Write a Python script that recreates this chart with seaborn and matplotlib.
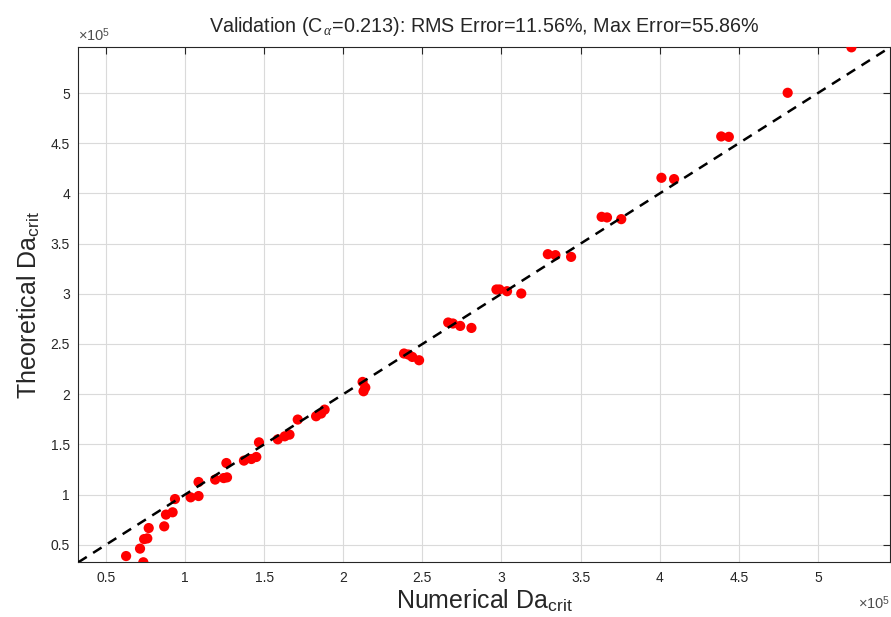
import matplotlib
matplotlib.use("Agg")
import matplotlib.pyplot as plt
import matplotlib.ticker as mticker
import numpy as np
import pandas as pd
import seaborn as sns

# Data in units of 1e5
numerical = [0.627, 0.736, 0.715, 0.741, 0.761, 0.770, 0.868, 0.879, 0.921, 0.936,
             1.035, 1.085, 1.085, 1.190, 1.244, 1.265, 1.261, 1.372, 1.419, 1.450,
             1.467, 1.586, 1.630, 1.660, 1.712, 1.828, 1.860, 1.882,
             2.122, 2.139, 2.128,
             2.384, 2.411, 2.436, 2.479,
             2.663, 2.693, 2.739, 2.810,
             2.968, 2.987, 3.035, 3.125,
             3.293, 3.341, 3.440,
             3.633, 3.667, 3.757,
             4.011, 4.091,
             4.389, 4.437,
             4.809, 5.212]
theoretical = [0.387, 0.325, 0.461, 0.556, 0.563, 0.666, 0.683, 0.800, 0.823, 0.955,
               0.972, 0.985, 1.125, 1.149, 1.164, 1.171, 1.314, 1.338, 1.354, 1.374,
               1.520, 1.550, 1.580, 1.597, 1.747, 1.780, 1.807, 1.846,
               2.122, 2.066, 2.029,
               2.405, 2.395, 2.371, 2.338,
               2.714, 2.704, 2.680, 2.660,
               3.043, 3.043, 3.026, 3.003,
               3.395, 3.385, 3.368,
               3.767, 3.761, 3.744,
               4.156, 4.143,
               4.568, 4.564,
               5.003, 5.456]
ticks = [0.5, 1, 1.5, 2, 2.5, 3, 3.5, 4, 4.5, 5]
title = "Validation (C$_{\\,\\alpha}$=0.213): RMS Error=11.56%, Max Error=55.86%"

df = pd.DataFrame({"num": numerical, "theo": theoretical})

sns.set_style("white")
plt.rcParams['font.family'] = ['Liberation Sans', 'DejaVu Sans']
plt.rcParams['mathtext.fontset'] = 'custom'
plt.rcParams['mathtext.rm'] = 'Liberation Sans'
plt.rcParams['mathtext.it'] = 'Liberation Serif:italic'

fig = plt.figure(figsize=(8.91, 6.17), dpi=100)
ax = fig.add_axes([0.0879, 0.0887, 0.9110, 0.8346])

lo = min(min(numerical), min(theoretical))
hi = max(max(numerical), max(theoretical))

ax.grid(True, color="#dadada", linewidth=0.8)
ax.set_axisbelow(True)
sns.scatterplot(data=df, x="num", y="theo", ax=ax, color="#ff0000",
                s=54, edgecolor="none", linewidth=0, zorder=3)
ax.plot([lo, hi], [lo, hi], linestyle=(0, (4, 3)), color="black", linewidth=1.8, zorder=4)

ax.set_xlim(lo, hi)
ax.set_ylim(lo, hi)
ax.set_xticks(ticks)
ax.set_yticks(ticks)
ax.xaxis.set_major_formatter(mticker.FormatStrFormatter('%g'))
ax.yaxis.set_major_formatter(mticker.FormatStrFormatter('%g'))
ax.tick_params(direction="in", length=5, width=0.8, top=True, right=True,
               labelsize=10, colors="#262626", pad=6)
for sp in ax.spines.values():
    sp.set_color("#262626")
    sp.set_linewidth(0.8)

ax.set_xlabel("Numerical Da$_{\\rm crit}$", fontsize=18, color="#262626", labelpad=2)
ax.set_ylabel("Theoretical Da$_{\\rm crit}$", fontsize=18, color="#262626", labelpad=6)
ax.set_title(title, fontsize=14.2, color="#262626", pad=11)

ax.text(-0.001, 1.006, "\u00d710$^{\\mathrm{5}}$", transform=ax.transAxes, fontsize=10.5,
        color="#4d4d4d", ha="left", va="bottom")
ax.text(1.0, -0.062, "\u00d710$^{\\mathrm{5}}$", transform=ax.transAxes, fontsize=10.5,
        color="#4d4d4d", ha="right", va="top")

fig.savefig("out.png", dpi=100)
